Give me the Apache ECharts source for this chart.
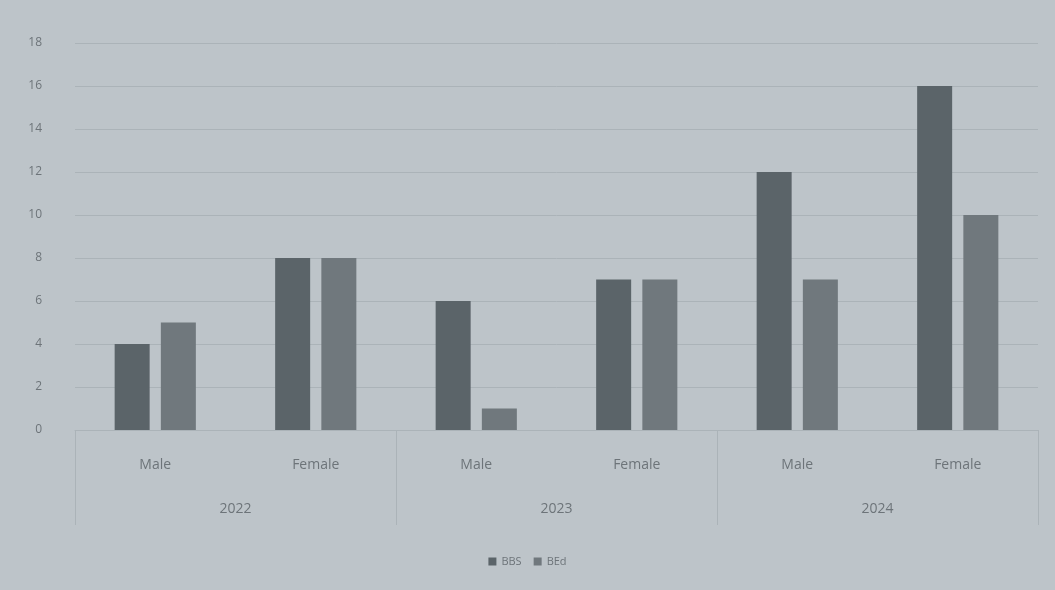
<!DOCTYPE html>
<html>
<head>
<meta charset="utf-8">
<script src="https://cdn.jsdelivr.net/npm/echarts@6/dist/echarts.min.js"></script>
<style>
  html, body { margin: 0; padding: 0; background: #bdc4c9; }
  #chart { width: 1055px; height: 590px; }
</style>
</head>
<body>
<div id="chart"></div>
<script>
// Enrolment by programme, gender and year
const genders = ['Male', 'Female', 'Male', 'Female', 'Male', 'Female'];
const years = ['2022', '2023', '2024'];
const bbs = [4, 8, 6, 7, 12, 16];
const bed = [5, 8, 1, 7, 7, 10];
const yTicks = { min: 0, max: 18, interval: 2 };

const textColor = '#6d7479';
const lineColor = '#abb3b8';

const chart = echarts.init(document.getElementById('chart'));
chart.setOption({
  backgroundColor: '#bdc4c9',
  animation: false,
  textStyle: { fontFamily: 'Open Sans, Liberation Sans, sans-serif' },
  grid: { left: 75, right: 17, top: 43, bottom: 160 },
  legend: {
    bottom: 18,
    left: 'center',
    itemWidth: 8,
    itemHeight: 8,
    itemGap: 12,
    icon: 'rect',
    textStyle: { color: textColor, fontSize: 11 },
    data: ['BBS', 'BEd']
  },
  xAxis: [
    {
      type: 'category',
      data: genders,
      axisLine: { show: true, lineStyle: { color: lineColor, width: 1 } },
      axisTick: { show: false },
      axisLabel: { color: textColor, fontSize: 14, margin: 28 }
    },
    {
      type: 'category',
      data: years,
      position: 'bottom',
      axisLine: { show: false },
      axisTick: { show: true, length: 95, lineStyle: { color: lineColor } },
      axisLabel: { color: textColor, fontSize: 14, margin: 72 }
    }
  ],
  yAxis: {
    type: 'value',
    min: yTicks.min,
    max: yTicks.max,
    interval: yTicks.interval,
    axisLine: { show: false },
    axisTick: { show: false },
    axisLabel: { color: textColor, fontSize: 12, margin: 33 },
    splitLine: { lineStyle: { color: lineColor, width: 1 } }
  },
  series: [
    {
      name: 'BBS',
      type: 'bar',
      data: bbs,
      barWidth: 35,
      barGap: '32%',
      itemStyle: { color: '#5b6469' }
    },
    {
      name: 'BEd',
      type: 'bar',
      data: bed,
      barWidth: 35,
      itemStyle: { color: '#70787d' }
    }
  ]
});
</script>
</body>
</html>
